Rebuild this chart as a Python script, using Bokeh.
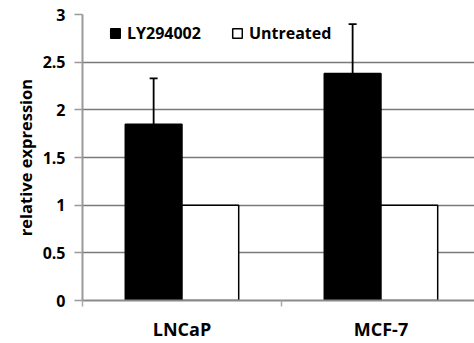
from bokeh.plotting import figure
from bokeh.models import FixedTicker, Legend, LegendItem, Whisker, TeeHead, ColumnDataSource, Range1d
from bokeh.embed import file_html
from bokeh.resources import INLINE

categories = ["LNCaP", "MCF-7"]
ly294002 = [1.85, 2.38]
ly294002_err_top = [2.33, 2.90]
untreated = [1.0, 1.0]
y_ticks = [0, 0.5, 1, 1.5, 2, 2.5, 3]

bar_w = 0.285
centers = [i + 0.5 for i in range(len(categories))]
x_ly = [c - bar_w / 2 for c in centers]
x_un = [c + bar_w / 2 for c in centers]

p = figure(width=474, height=343, output_backend="svg", toolbar_location=None,
           x_range=Range1d(0, 1.97), y_range=Range1d(0, 3),
           min_border_left=82, min_border_right=0, min_border_top=14, min_border_bottom=41)
p.outline_line_color = None
p.background_fill_color = "white"

src_ly = ColumnDataSource(dict(x=x_ly, top=ly294002, err=ly294002_err_top))
src_un = ColumnDataSource(dict(x=x_un, top=untreated))

r_ly = p.vbar(x="x", top="top", bottom=0, width=bar_w, source=src_ly,
              fill_color="black", line_color="black", line_width=1.5)
r_un = p.vbar(x="x", top="top", bottom=0, width=bar_w, source=src_un,
              fill_color="white", line_color="black", line_width=1.5)

w = Whisker(base="x", upper="err", lower="top", source=src_ly,
            line_color="black", line_width=1.8,
            lower_head=None, upper_head=TeeHead(size=8, line_color="black", line_width=1.8))
p.add_layout(w)

# grid
p.xgrid.grid_line_color = None
p.ygrid.ticker = FixedTicker(ticks=y_ticks)
p.ygrid.grid_line_color = "#7a7a7a"
p.ygrid.grid_line_width = 1.5

# y axis
p.yaxis.ticker = FixedTicker(ticks=y_ticks)
p.yaxis.major_label_overrides = {0: "0", 0.5: "0.5", 1: "1", 1.5: "1.5", 2: "2", 2.5: "2.5", 3: "3"}
p.yaxis.axis_line_color = "#9a9a9a"
p.yaxis.axis_line_width = 2
p.yaxis.major_tick_line_color = "#9a9a9a"
p.yaxis.major_tick_line_width = 1.5
p.yaxis.major_tick_out = 8
p.yaxis.major_tick_in = 0
p.yaxis.minor_tick_line_color = None
p.yaxis.major_label_text_font = "Open Sans"
p.yaxis.major_label_text_font_style = "bold"
p.yaxis.major_label_text_font_size = "16px"
p.yaxis.major_label_text_color = "black"
p.yaxis.major_label_standoff = 9
p.yaxis.axis_label = "relative expression"
p.yaxis.axis_label_text_font = "Open Sans"
p.yaxis.axis_label_text_font_style = "bold"
p.yaxis.axis_label_text_font_size = "16.5px"
p.yaxis.axis_label_text_color = "black"
p.yaxis.axis_label_standoff = 3

# x axis
p.xaxis.ticker = FixedTicker(ticks=centers, minor_ticks=[0, 1, 2])
p.xaxis.major_label_overrides = {c: n for c, n in zip(centers, categories)}
p.xaxis.axis_line_color = "#8a8a8a"
p.xaxis.axis_line_width = 2
p.xaxis.major_tick_line_color = None
p.xaxis.major_tick_out = 0
p.xaxis.major_tick_in = 0
p.xaxis.minor_tick_line_color = "#aaaaaa"
p.xaxis.minor_tick_line_width = 1.5
p.xaxis.minor_tick_out = 6
p.xaxis.minor_tick_in = 0
p.xaxis.major_label_text_font = "Open Sans"
p.xaxis.major_label_text_font_style = "bold"
p.xaxis.major_label_text_font_size = "18px"
p.xaxis.major_label_text_color = "black"
p.xaxis.major_label_standoff = 10

legend = Legend(items=[LegendItem(label="LY294002", renderers=[r_ly]),
                       LegendItem(label="Untreated", renderers=[r_un])],
                orientation="horizontal", location=(27, 256),
                glyph_width=12, glyph_height=12, label_standoff=6, spacing=30,
                margin=0, padding=0, border_line_alpha=0, background_fill_alpha=0,
                label_text_font="Open Sans", label_text_font_style="bold",
                label_text_font_size="16px", label_text_color="black")
p.add_layout(legend)

open("out.html", "w").write(file_html(p, INLINE))
